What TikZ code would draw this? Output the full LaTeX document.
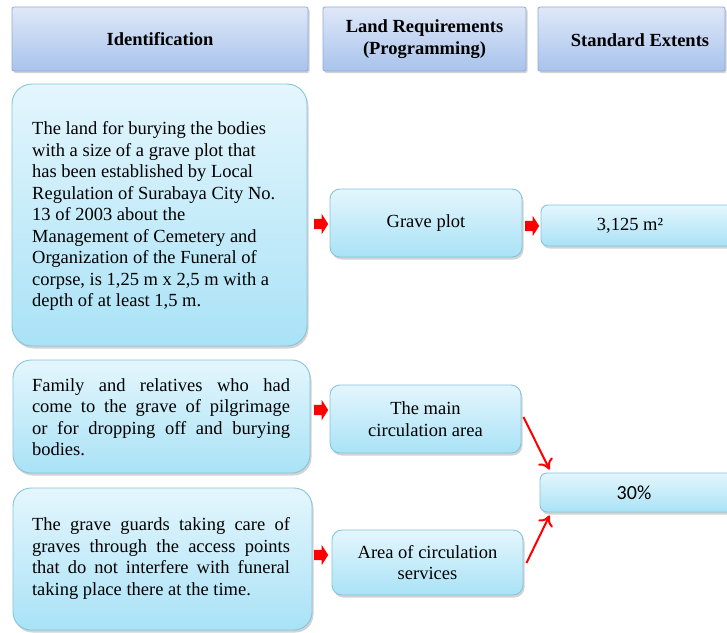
\documentclass[tikz,border=0pt]{standalone}
\usepackage{fontspec}
\setmainfont{Liberation Serif}
\newfontfamily\calib{Carlito}
\usetikzlibrary{shadows,shapes.arrows,calc,arrows.meta}
\definecolor{hdtop}{HTML}{DFE8F8}
\definecolor{hdbot}{HTML}{A8C3EC}
\definecolor{hdline}{HTML}{8FAAD6}
\definecolor{bxtop}{HTML}{E4F6FD}
\definecolor{bxbot}{HTML}{A9E2F6}
\definecolor{bxline}{HTML}{86C4DA}
\tikzset{
  hdbox/.style={draw=hdline, line width=0.8pt, top color=hdtop, bottom color=hdbot,
    rounded corners=2pt, inner sep=0pt, minimum width=#1,
    minimum height=64pt, font=\fontsize{18.5}{22}\selectfont\bfseries, align=center,
    drop shadow={shadow xshift=1.5pt, shadow yshift=-2pt, opacity=0.35}},
  cbox/.style={draw=bxline, line width=0.9pt, top color=bxtop, bottom color=bxbot,
    inner sep=0pt, drop shadow={shadow xshift=1.5pt, shadow yshift=-2.5pt, opacity=0.35}},
  txt/.style={font=\fontsize{18.5}{21.5}\selectfont, inner sep=0pt},
  blk/.style={single arrow, fill=red, draw=none, inner sep=0pt, text height=10pt,
    text depth=0pt, text width=0pt, minimum height=14pt, minimum width=20pt,
    single arrow head extend=5pt, single arrow tip angle=115},
  redarr/.style={draw=red, line width=2pt, -{To[length=10pt,width=16pt]}},
}
\begin{document}
\begin{tikzpicture}[x=1pt,y=-1pt]
\useasboundingbox (0,0) rectangle (727,632);
\clip (0,0) rectangle (727,632);
% headers
\node[hdbox=296pt] (h1) at (160,39) {Identification};
\node[hdbox=203pt] (h2) at (424.5,39) {Land Requirements\\(Programming)};
\node[hdbox=187pt] (h3) at (631.5,39) {};
\node[font=\fontsize{18.5}{22}\selectfont\bfseries, inner sep=0pt] (h3t) at (640,40) {Standard Extents};
% left boxes
\node[cbox, rounded corners=20pt, minimum width=295pt, minimum height=262pt] (b1) at (159.5,215) {};
\node[txt, align=left, anchor=west] (b1t) at (32,216) {The land for burying the bodies\\
with a size of a grave plot that\\
has been established by Local\\
Regulation of Surabaya City No.\\
13 of 2003 about the\\
Management of Cemetery and\\
Organization of the Funeral of\\
corpse, is 1,25 m x 2,5 m with a\\
depth of at least 1,5 m.};
\node[cbox, rounded corners=18pt, minimum width=297pt, minimum height=113pt] (b2) at (161.5,416.5) {};
\node[txt, text width=258pt, align=justify] (b2t) at (161,417) {Family and relatives who had\linebreak
come to the grave of pilgrimage\linebreak
or for dropping off and burying\linebreak
bodies.};
\node[cbox, rounded corners=18pt, minimum width=299pt, minimum height=142pt] (b3) at (162.5,559) {};
\node[txt, text width=258pt, align=justify] (b3t) at (161,558.5) {The grave guards taking care of\linebreak
graves through the access points\linebreak
that do not interfere with funeral\linebreak
taking place there at the time.};
% middle boxes
\node[cbox, rounded corners=10pt, minimum width=192pt, minimum height=68pt, txt, align=center] (gp) at (426,223) {Grave plot};
\node[cbox, rounded corners=10pt, minimum width=191pt, minimum height=68pt, txt, align=center] (mc) at (425.5,419) {The main\\circulation area};
\node[cbox, rounded corners=10pt, minimum width=191pt, minimum height=65pt, txt, align=center] (ac) at (427.5,562.5) {Area of circulation\\services};
% right boxes
\node[cbox, rounded corners=7pt, minimum width=219pt, minimum height=41pt] (ar) at (650.5,225.5) {};
\node[txt] (art) at (630,225.5) {3,125 m²};
\node[cbox, rounded corners=7pt, minimum width=220pt, minimum height=39pt] (p30) at (650,492.5) {};
\node[font=\calib\fontsize{20}{22}\selectfont, inner sep=0pt] (p30t) at (634,493) {30\%};
% block arrows
\node[blk] (a1) at (319.5,224) {};
\node[blk] (a2) at (530.5,226) {};
\node[blk] (a3) at (319.5,410) {};
\node[blk] (a4) at (319.5,555) {};
% red connectors
\coordinate (e1) at ($(p30.north west)+(10,-3)$);
\coordinate (e2) at ($(p30.south west)+(10,3)$);
\draw[redarr] ($(mc.east)+(2,-2)$) -- (e1);
\draw[redarr] ($(ac.east)+(3,0.5)$) -- (e2);
\end{tikzpicture}
\end{document}
